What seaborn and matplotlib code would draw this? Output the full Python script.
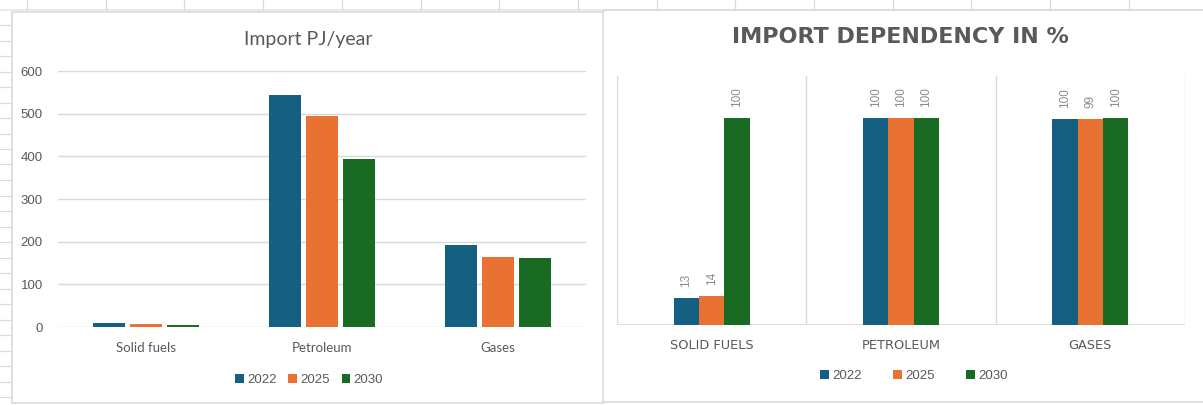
import matplotlib
matplotlib.use("Agg")
import matplotlib.pyplot as plt
from matplotlib.lines import Line2D
from matplotlib.patches import Patch
import seaborn as sns
import pandas as pd

# ---------------- data ----------------
categories = ["Solid fuels", "Petroleum", "Gases"]
years = ["2022", "2025", "2030"]
import_pj_2022 = [9, 543, 192]
import_pj_2025 = [6, 494, 164]
import_pj_2030 = [4, 394, 161]
dep_2022 = [13, 100, 99.6]
dep_2025 = [14, 100, 99.4]
dep_2030 = [100, 100, 100]
left_yticks = [0, 100, 200, 300, 400, 500, 600]

colors = ["#156082", "#E97132", "#196B24"]
TXT = "#595959"
GRID = "#D9D9D9"

W, H = 1203, 405
sns.set_theme(style="white")
plt.rcParams["font.family"] = ["Lato", "DejaVu Sans"]

fig = plt.figure(figsize=(W / 100, H / 100), dpi=100)
fig.patch.set_facecolor("white")


def fx(x):
    return x / W


def fy(y):
    return 1 - y / H


def fline(x0, y0, x1, y1, color="#E3E3E3", lw=1.0):
    fig.add_artist(Line2D([fx(x0), fx(x1)], [fy(y0), fy(y1)],
                          transform=fig.transFigure, color=color, lw=lw))


# ---- spreadsheet background ----
fline(0, 10, W, 10, "#E6E6E6", 1.2)
x = 27.0
while x < W:
    fline(x, 0, x, 10, "#DADADA", 0.9)
    x += 78.7
y = 25.0
while y < H:
    fline(0, y, 12, y, "#DADADA", 0.9)
    y += 15.5
# chart boxes
fline(12, 11.5, 604, 11.5, "#DCDCDC", 1.2)
fline(12, 11.5, 12, 403, "#DCDCDC", 1.2)
fline(12, 403, 604, 403, "#DCDCDC", 1.2)
fline(604, 9.5, W, 9.5, "#DCDCDC", 1.2)
fline(603, 9.5, 603, 402, "#DCDCDC", 1.2)
fline(603, 402, W, 402, "#DCDCDC", 1.2)

# ---------------- left chart ----------------
df_left = pd.DataFrame({
    "category": categories * 3,
    "year": sum([[yr] * 3 for yr in years], []),
    "value": import_pj_2022 + import_pj_2025 + import_pj_2030,
})
axL = fig.add_axes([fx(58), fy(327), fx(586) - fx(58), fy(71) - fy(327)])
sns.barplot(data=df_left, x="category", y="value", hue="year",
            order=categories, hue_order=years, palette=colors,
            width=0.63, gap=0.15, errorbar=None, legend=False,
            linewidth=0, saturation=1, ax=axL)
axL.set_ylim(0, 600)
axL.set_xlim(-0.5, 2.5)
axL.set_yticks(left_yticks)
axL.grid(axis="y", color=GRID, lw=1.0)
axL.set_axisbelow(True)
for s in axL.spines.values():
    s.set_visible(False)
axL.tick_params(axis="y", length=0, pad=11, labelsize=9.5, labelcolor=TXT)
axL.tick_params(axis="x", length=0, pad=11, labelsize=9.5, labelcolor=TXT)
for t in axL.get_yticklabels():
    t.set_fontfamily(["Liberation Sans", "DejaVu Sans"])
axL.set_xlabel("")
axL.set_ylabel("")
fig.text(fx(308), fy(40), "Import PJ/year", ha="center", va="center",
         fontsize=14, color=TXT)

handles = [Patch(facecolor=c, edgecolor="none") for c in colors]
fig.legend(handles, years, loc="center", bbox_to_anchor=(fx(309), fy(380)),
           ncol=3, frameon=False, labelcolor=TXT,
           handlelength=0.65, handleheight=0.65, handletextpad=0.25,
           columnspacing=0.9, prop={"family": ["Liberation Sans"], "size": 9.5})

# ---------------- right chart ----------------
df_right = pd.DataFrame({
    "category": categories * 3,
    "year": sum([[yr] * 3 for yr in years], []),
    "value": dep_2022 + dep_2025 + dep_2030,
})
axR = fig.add_axes([fx(617), fy(325), fx(1185) - fx(617), fy(76) - fy(325)])
sns.barplot(data=df_right, x="category", y="value", hue="year",
            order=categories, hue_order=years, palette=colors,
            width=0.40, gap=0, errorbar=None, legend=False,
            linewidth=0, saturation=1, ax=axR)
axR.set_ylim(0, 120.3)
axR.set_xlim(-0.5, 2.5)
axR.set_yticks([])
for s in axR.spines.values():
    s.set_visible(False)
for xv in [-0.5, 0.5, 1.5, 2.5]:
    axR.axvline(xv, color=GRID, lw=1.0, zorder=0)
axR.axhline(0, color=GRID, lw=1.2, zorder=0.5)
axR.set_xticks(range(len(categories)))
axR.set_xticklabels([c.upper() for c in categories], fontfamily="DejaVu Sans")
axR.tick_params(axis="x", length=0, pad=10, labelsize=9.3, labelcolor=TXT)
axR.set_xlabel("")
axR.set_ylabel("")
for cont in axR.containers:
    labels = [f"{b.get_height():.0f}" for b in cont]
    axR.bar_label(cont, labels=labels, rotation=90, padding=8,
                  fontsize=8.5, color="#8C8C8C",
                  fontfamily="Liberation Sans")

fig.text(fx(900), fy(37), "IMPORT DEPENDENCY IN %", ha="center", va="center",
         fontsize=16, fontweight="bold", color=TXT, family="DejaVu Sans")

fig.legend(handles, years, loc="center", bbox_to_anchor=(fx(914), fy(376)),
           ncol=3, frameon=False, labelcolor=TXT,
           handlelength=0.65, handleheight=0.65, handletextpad=0.25,
           columnspacing=2.4, prop={"family": ["Liberation Sans"], "size": 9.5})

fig.savefig("out.png", dpi=100, facecolor="white")
